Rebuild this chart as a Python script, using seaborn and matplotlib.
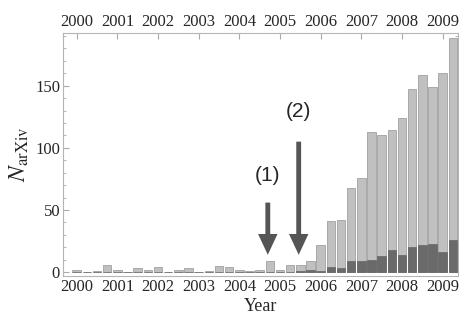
import numpy as np
import pandas as pd
import matplotlib
matplotlib.use("Agg")
import matplotlib.pyplot as plt
from matplotlib.ticker import MultipleLocator
import seaborn as sns

# quarterly bins, 2000.00 ... 2009.25
quarters = [2000 + 0.25 * i for i in range(38)]
total = [2, 0, 1, 6, 2, 0, 3, 2, 4, 0, 2, 3, 0, 1, 5, 4, 2, 1, 2, 9,
         2, 6, 6, 9, 22, 41, 42, 68, 76, 113, 110, 114, 124, 147, 159, 149, 160, 188]
subset = [0, 0, 0, 0, 0, 0, 0, 0, 0, 0, 0, 0, 0, 0, 0, 0, 0, 0, 0, 0,
          0, 0, 1, 2, 1, 4, 3, 9, 9, 10, 13, 18, 14, 20, 22, 23, 16, 26]
year_ticks = list(range(2000, 2010))

# arrow annotations: (label, x, tip y, tail y, label y)
notes = [("(1)", 2004.70, 14, 56, 78), ("(2)", 2005.46, 14, 105, 129)]

df = pd.DataFrame({"quarter": quarters, "total": total, "subset": subset})

sns.set_style("white")
plt.rcParams["font.family"] = ["Liberation Serif", "DejaVu Serif"]
plt.rcParams["mathtext.fontset"] = "stix"

fig = plt.figure(figsize=(4.59, 3.22), dpi=100)
ax = fig.add_axes([0.137, 0.143, 0.861, 0.755])

sns.barplot(data=df, x="quarter", y="total", native_scale=True, width=0.83,
            color="#c0c0c0", edgecolor="#a0a0a0", linewidth=0.6,
            saturation=1, ax=ax)
sns.barplot(data=df, x="quarter", y="subset", native_scale=True, width=0.83,
            color="#6a6a6a", edgecolor="#5a5a5a", linewidth=0.4,
            saturation=1, ax=ax)

for label, x, tip, tail, ly in notes:
    ax.annotate("", xy=(x, tip), xytext=(x, tail),
                arrowprops=dict(facecolor="#555555", edgecolor="none",
                                width=3.5, headwidth=14, headlength=15, shrink=0))
    ax.text(x, ly, label, ha="center", va="center", fontsize=15,
            family=["Liberation Sans", "DejaVu Sans"])

ax.set_xlim(1999.66, 2009.38)
ax.set_ylim(-3, 192.5)
ax.set_xticks(year_ticks)
ax.set_xticklabels([str(y) for y in year_ticks])
ax.yaxis.set_major_locator(MultipleLocator(50))
ax.yaxis.set_minor_locator(MultipleLocator(10))
ax.tick_params(axis="both", which="both", direction="in", color="#aaaaaa",
               labelsize=12, pad=2)
ax.tick_params(axis="x", top=True, labeltop=True, length=4)
ax.tick_params(axis="y", which="major", left=True, right=True, length=4)
ax.tick_params(axis="y", which="minor", left=True, right=True, length=2)
for s in ax.spines.values():
    s.set_color("#b5b5b5")
    s.set_linewidth(0.8)

ax.set_xlabel("Year", fontsize=13, labelpad=2)
ax.set_ylabel(r"$N_{\mathrm{arXiv}}$", fontsize=17, labelpad=3)

fig.savefig("out.png", dpi=100)
